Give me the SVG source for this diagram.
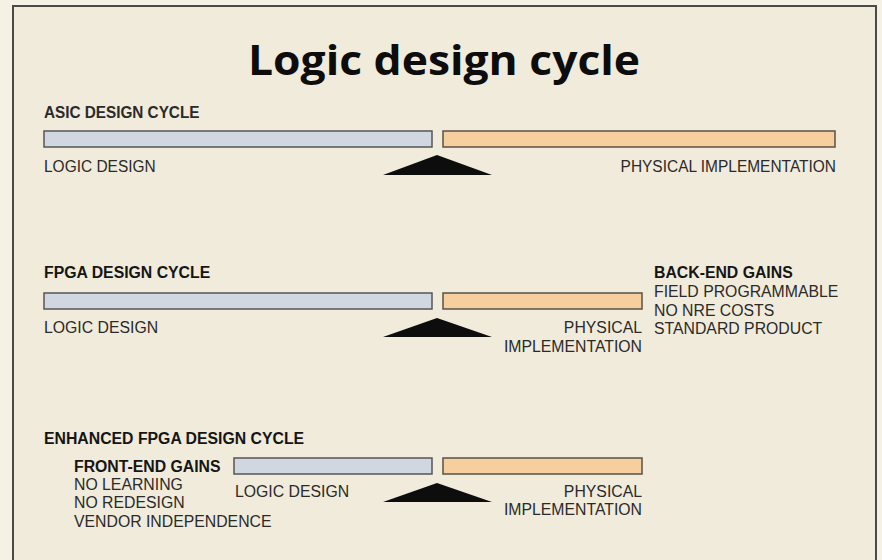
<svg xmlns="http://www.w3.org/2000/svg" width="882" height="560" viewBox="0 0 882 560">
<defs>
<style>
.t{font-family:"Liberation Sans",Arial,sans-serif;font-size:15.8px;fill:#2a2a2a}
.b{font-weight:bold;fill:#151515}
.r{text-anchor:end}
.c{font-family:"Liberation Sans",Arial,sans-serif;font-size:17px;fill:#2a2a2a}
.blue{fill:#d0d7e0;stroke:#555;stroke-width:1.5}
.orange{fill:#f7cf9e;stroke:#5a5048;stroke-width:1.5}
.tri{fill:#0d0d0d}
</style>
</defs>
<rect x="0" y="0" width="882" height="560" fill="#f5f1e5"/>
<rect x="13" y="6" width="863" height="570" fill="#f1ebdb" stroke="#4a4a4a" stroke-width="2"/>
<text x="444" y="75" text-anchor="middle" font-family="'Open Sans','Liberation Sans',sans-serif" font-weight="bold" font-size="41" fill="#0d0d0d" textLength="392" lengthAdjust="spacingAndGlyphs">Logic design cycle</text>

<g id="asic">
<g transform="translate(44,118) scale(0.9,1)"><text class="c b" x="0" y="0">ASIC DESIGN CYCLE</text></g>
<g id="asic-logic"><rect class="blue" x="44" y="131" width="388" height="16"/>
<g transform="translate(44,172) scale(0.91,1)"><text class="c" x="0" y="0">LOGIC DESIGN</text></g></g>
<g id="asic-phys"><rect class="orange" x="443" y="131" width="392" height="16"/>
<g transform="translate(836,172) scale(0.91,1)"><text class="c r" x="0" y="0">PHYSICAL IMPLEMENTATION</text></g></g>
<polygon id="asic-tri" class="tri" points="437,155 492,175 383,175"/>
</g>

<g id="fpga">
<text class="t b" x="44" y="278">FPGA DESIGN CYCLE</text>
<g id="fpga-logic"><rect class="blue" x="44" y="293" width="388" height="16"/>
<text class="t" x="44" y="333">LOGIC DESIGN</text></g>
<g id="fpga-phys"><rect class="orange" x="443" y="293" width="199" height="16"/>
<text class="t r" x="642" y="333">PHYSICAL</text>
<text class="t r" x="642" y="352">IMPLEMENTATION</text></g>
<polygon id="fpga-tri" class="tri" points="437,318 492,337 383,337"/>
<g id="backend">
<text class="t b" x="654" y="278">BACK-END GAINS</text>
<text class="t" x="654" y="297">FIELD PROGRAMMABLE</text>
<text class="t" x="654" y="316">NO NRE COSTS</text>
<text class="t" x="654" y="334">STANDARD PRODUCT</text>
</g>
</g>

<g id="enhanced">
<text class="t b" x="44" y="444">ENHANCED FPGA DESIGN CYCLE</text>
<g id="frontend">
<text class="t b" x="74" y="472">FRONT-END GAINS</text>
<text class="t" x="74" y="490">NO LEARNING</text>
<text class="t" x="74" y="508">NO REDESIGN</text>
<text class="t" x="74" y="527">VENDOR INDEPENDENCE</text>
</g>
<g id="enh-logic"><rect class="blue" x="234" y="458" width="198" height="16"/>
<text class="t" x="235" y="497">LOGIC DESIGN</text></g>
<g id="enh-phys"><rect class="orange" x="443" y="458" width="199" height="16"/>
<text class="t r" x="642" y="497">PHYSICAL</text>
<text class="t r" x="642" y="515">IMPLEMENTATION</text></g>
<polygon id="enh-tri" class="tri" points="437,483 492,502 383,502"/>
</g>
</svg>
